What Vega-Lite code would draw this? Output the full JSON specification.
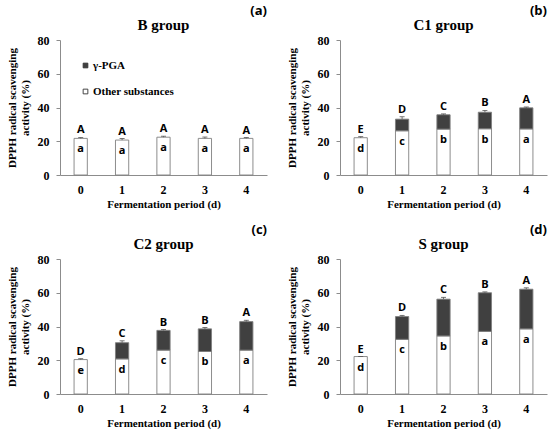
{
  "$schema": "https://vega.github.io/schema/vega-lite/v6.json",
  "background": "white",
  "padding": 5,
  "datasets": {
    "dpph": [
      {"g": "B", "d": "0", "other": 21.7, "total": 21.7, "hi": 22.3, "up": "A", "low": "a"},
      {"g": "B", "d": "1", "other": 20.7, "total": 20.7, "hi": 21.6, "up": "A", "low": "a"},
      {"g": "B", "d": "2", "other": 22.4, "total": 22.4, "hi": 23.0, "up": "A", "low": "a"},
      {"g": "B", "d": "3", "other": 21.7, "total": 21.7, "hi": 22.5, "up": "A", "low": "a"},
      {"g": "B", "d": "4", "other": 21.7, "total": 21.7, "hi": 22.2, "up": "A", "low": "a"},
      {"g": "C1", "d": "0", "other": 22.1, "total": 22.1, "hi": 22.7, "up": "E", "low": "d"},
      {"g": "C1", "d": "1", "other": 26.2, "total": 33.1, "hi": 34.5, "up": "D", "low": "c"},
      {"g": "C1", "d": "2", "other": 27.2, "total": 35.7, "hi": 36.2, "up": "C", "low": "b"},
      {"g": "C1", "d": "3", "other": 27.4, "total": 37.2, "hi": 38.3, "up": "B", "low": "b"},
      {"g": "C1", "d": "4", "other": 27.3, "total": 39.8, "hi": 40.3, "up": "A", "low": "a"},
      {"g": "C2", "d": "0", "other": 20.4, "total": 20.4, "hi": 20.9, "up": "D", "low": "e"},
      {"g": "C2", "d": "1", "other": 20.8, "total": 30.4, "hi": 31.5, "up": "C", "low": "d"},
      {"g": "C2", "d": "2", "other": 26.0, "total": 37.7, "hi": 38.2, "up": "B", "low": "c"},
      {"g": "C2", "d": "3", "other": 25.2, "total": 38.6, "hi": 39.4, "up": "B", "low": "b"},
      {"g": "C2", "d": "4", "other": 26.0, "total": 42.9, "hi": 43.7, "up": "A", "low": "a"},
      {"g": "S", "d": "0", "other": 22.2, "total": 22.2, "hi": 22.2, "up": "E", "low": "d"},
      {"g": "S", "d": "1", "other": 32.4, "total": 45.9, "hi": 46.6, "up": "D", "low": "c"},
      {"g": "S", "d": "2", "other": 34.4, "total": 56.2, "hi": 57.3, "up": "C", "low": "b"},
      {"g": "S", "d": "3", "other": 37.1, "total": 60.0, "hi": 60.5, "up": "B", "low": "a"},
      {"g": "S", "d": "4", "other": 38.6, "total": 62.1, "hi": 62.9, "up": "A", "low": "a"}
    ]
  },
  "data": {"name": "dpph"},
  "columns": 2,
  "spacing": {"row": 15, "column": 18},
  "resolve": {"scale": {"color": "independent", "x": "independent", "y": "independent"}, "legend": {"color": "independent"}},
  "concat": [
    {
      "title": {"text": "(a)", "anchor": "end", "offset": 0},
      "resolve": {"scale": {"color": "independent"}, "legend": {"color": "independent"}},
      "vconcat": [
        {
          "title": {"text": "B group", "font": "Liberation Serif", "fontSize": 15, "offset": 1},
          "width": 207,
          "height": 135,
          "transform": [{"filter": "datum.g == 'B'"}],
          "encoding": {
            "x": {"field": "d", "type": "ordinal", "scale": {"paddingInner": 0, "paddingOuter": 0}, "title": "Fermentation period (d)"}
          },
          "layer": [
            {
              "mark": {"type": "bar", "width": {"band": 0.32}},
              "encoding": {
                "y": {"field": "other", "type": "quantitative", "scale": {"domain": [0, 80]}, "title": ["DPPH radical scavenging", "activity (%)"]},
                "color": {"datum": "Other substances", "scale": {"domain": ["γ-PGA", "Other substances"], "range": ["#404040", "white"]},
                  "legend": {"title": null, "orient": "top-left", "offset": 20, "padding": 0, "symbolType": "square", "symbolSize": 22, "symbolStrokeColor": "#333333", "symbolStrokeWidth": 0.8, "labelOffset": 2, "rowPadding": 14, "labelFont": "Liberation Serif", "labelFontWeight": "bold", "labelFontSize": 11, "labelColor": "black"}}
              }
            },
            {
              "transform": [{"filter": "datum.total > datum.other"}],
              "mark": {"type": "bar", "width": {"band": 0.32}},
              "encoding": {
                "y": {"field": "other", "type": "quantitative"},
                "y2": {"field": "total"},
                "color": {"datum": "γ-PGA"}
              }
            },
            {
              "mark": {"type": "rule", "color": "#555555", "strokeWidth": 0.8},
              "encoding": {"y": {"field": "total", "type": "quantitative"}, "y2": {"field": "hi"}}
            },
            {
              "mark": {"type": "tick", "color": "#555555", "thickness": 0.8, "size": 5},
              "encoding": {"y": {"field": "hi", "type": "quantitative"}}
            },
            {
              "mark": {"type": "text", "font": "Open Sans", "fontWeight": "bold", "fontSize": 11, "baseline": "alphabetic", "dy": -4},
              "encoding": {"y": {"field": "hi", "type": "quantitative"}, "text": {"field": "up"}}
            },
            {
              "mark": {"type": "text", "font": "Open Sans", "fontWeight": "bold", "fontSize": 11, "baseline": "middle", "dy": 11},
              "encoding": {"y": {"field": "other", "type": "quantitative"}, "text": {"field": "low"}}
            }
          ]
        }
      ]
    },
    {
      "title": {"text": "(b)", "anchor": "end", "offset": 0},
      "resolve": {"scale": {"color": "independent"}, "legend": {"color": "independent"}},
      "vconcat": [
        {
          "title": {"text": "C1 group", "font": "Liberation Serif", "fontSize": 15, "offset": 1},
          "width": 207,
          "height": 135,
          "transform": [{"filter": "datum.g == 'C1'"}],
          "encoding": {
            "x": {"field": "d", "type": "ordinal", "scale": {"paddingInner": 0, "paddingOuter": 0}, "title": "Fermentation period (d)"}
          },
          "layer": [
            {
              "mark": {"type": "bar", "width": {"band": 0.32}},
              "encoding": {
                "y": {"field": "other", "type": "quantitative", "scale": {"domain": [0, 80]}, "title": ["DPPH radical scavenging", "activity (%)"]},
                "color": {"datum": "Other substances", "scale": {"domain": ["γ-PGA", "Other substances"], "range": ["#404040", "white"]}, "legend": null}
              }
            },
            {
              "transform": [{"filter": "datum.total > datum.other"}],
              "mark": {"type": "bar", "width": {"band": 0.32}},
              "encoding": {
                "y": {"field": "other", "type": "quantitative"},
                "y2": {"field": "total"},
                "color": {"datum": "γ-PGA", "legend": null}
              }
            },
            {
              "mark": {"type": "rule", "color": "#555555", "strokeWidth": 0.8},
              "encoding": {"y": {"field": "total", "type": "quantitative"}, "y2": {"field": "hi"}}
            },
            {
              "mark": {"type": "tick", "color": "#555555", "thickness": 0.8, "size": 5},
              "encoding": {"y": {"field": "hi", "type": "quantitative"}}
            },
            {
              "mark": {"type": "text", "font": "Open Sans", "fontWeight": "bold", "fontSize": 11, "baseline": "alphabetic", "dy": -4},
              "encoding": {"y": {"field": "hi", "type": "quantitative"}, "text": {"field": "up"}}
            },
            {
              "mark": {"type": "text", "font": "Open Sans", "fontWeight": "bold", "fontSize": 11, "baseline": "middle", "dy": 11},
              "encoding": {"y": {"field": "other", "type": "quantitative"}, "text": {"field": "low"}}
            }
          ]
        }
      ]
    },
    {
      "title": {"text": "(c)", "anchor": "end", "offset": 0},
      "resolve": {"scale": {"color": "independent"}, "legend": {"color": "independent"}},
      "vconcat": [
        {
          "title": {"text": "C2 group", "font": "Liberation Serif", "fontSize": 15, "offset": 1},
          "width": 207,
          "height": 135,
          "transform": [{"filter": "datum.g == 'C2'"}],
          "encoding": {
            "x": {"field": "d", "type": "ordinal", "scale": {"paddingInner": 0, "paddingOuter": 0}, "title": "Fermentation period (d)"}
          },
          "layer": [
            {
              "mark": {"type": "bar", "width": {"band": 0.32}},
              "encoding": {
                "y": {"field": "other", "type": "quantitative", "scale": {"domain": [0, 80]}, "title": ["DPPH radical scavenging", "activity (%)"]},
                "color": {"datum": "Other substances", "scale": {"domain": ["γ-PGA", "Other substances"], "range": ["#404040", "white"]}, "legend": null}
              }
            },
            {
              "transform": [{"filter": "datum.total > datum.other"}],
              "mark": {"type": "bar", "width": {"band": 0.32}},
              "encoding": {
                "y": {"field": "other", "type": "quantitative"},
                "y2": {"field": "total"},
                "color": {"datum": "γ-PGA", "legend": null}
              }
            },
            {
              "mark": {"type": "rule", "color": "#555555", "strokeWidth": 0.8},
              "encoding": {"y": {"field": "total", "type": "quantitative"}, "y2": {"field": "hi"}}
            },
            {
              "mark": {"type": "tick", "color": "#555555", "thickness": 0.8, "size": 5},
              "encoding": {"y": {"field": "hi", "type": "quantitative"}}
            },
            {
              "mark": {"type": "text", "font": "Open Sans", "fontWeight": "bold", "fontSize": 11, "baseline": "alphabetic", "dy": -4},
              "encoding": {"y": {"field": "hi", "type": "quantitative"}, "text": {"field": "up"}}
            },
            {
              "mark": {"type": "text", "font": "Open Sans", "fontWeight": "bold", "fontSize": 11, "baseline": "middle", "dy": 11},
              "encoding": {"y": {"field": "other", "type": "quantitative"}, "text": {"field": "low"}}
            }
          ]
        }
      ]
    },
    {
      "title": {"text": "(d)", "anchor": "end", "offset": 0},
      "resolve": {"scale": {"color": "independent"}, "legend": {"color": "independent"}},
      "vconcat": [
        {
          "title": {"text": "S group", "font": "Liberation Serif", "fontSize": 15, "offset": 1},
          "width": 207,
          "height": 135,
          "transform": [{"filter": "datum.g == 'S'"}],
          "encoding": {
            "x": {"field": "d", "type": "ordinal", "scale": {"paddingInner": 0, "paddingOuter": 0}, "title": "Fermentation period (d)"}
          },
          "layer": [
            {
              "mark": {"type": "bar", "width": {"band": 0.32}},
              "encoding": {
                "y": {"field": "other", "type": "quantitative", "scale": {"domain": [0, 80]}, "title": ["DPPH radical scavenging", "activity (%)"]},
                "color": {"datum": "Other substances", "scale": {"domain": ["γ-PGA", "Other substances"], "range": ["#404040", "white"]}, "legend": null}
              }
            },
            {
              "transform": [{"filter": "datum.total > datum.other"}],
              "mark": {"type": "bar", "width": {"band": 0.32}},
              "encoding": {
                "y": {"field": "other", "type": "quantitative"},
                "y2": {"field": "total"},
                "color": {"datum": "γ-PGA", "legend": null}
              }
            },
            {
              "mark": {"type": "rule", "color": "#555555", "strokeWidth": 0.8},
              "encoding": {"y": {"field": "total", "type": "quantitative"}, "y2": {"field": "hi"}}
            },
            {
              "mark": {"type": "tick", "color": "#555555", "thickness": 0.8, "size": 5},
              "encoding": {"y": {"field": "hi", "type": "quantitative"}}
            },
            {
              "mark": {"type": "text", "font": "Open Sans", "fontWeight": "bold", "fontSize": 11, "baseline": "alphabetic", "dy": -4},
              "encoding": {"y": {"field": "hi", "type": "quantitative"}, "text": {"field": "up"}}
            },
            {
              "mark": {"type": "text", "font": "Open Sans", "fontWeight": "bold", "fontSize": 11, "baseline": "middle", "dy": 11},
              "encoding": {"y": {"field": "other", "type": "quantitative"}, "text": {"field": "low"}}
            }
          ]
        }
      ]
    }
  ],
  "config": {
    "view": {"stroke": null},
    "bar": {"stroke": "#808080", "strokeWidth": 0.9, "opacity": 1},
    "tick": {"opacity": 1},
    "text": {"color": "black"},
    "title": {"font": "Open Sans", "fontSize": 13, "fontWeight": "bold", "color": "black"},
    "axis": {
      "grid": false,
      "domainColor": "#8c8c8c",
      "tickColor": "#8c8c8c",
      "labelFont": "Liberation Serif",
      "labelFontWeight": "bold",
      "labelFontSize": 12,
      "labelColor": "black",
      "titleFont": "Liberation Serif",
      "titleFontWeight": "bold",
      "titleFontSize": 11,
      "titleColor": "black"
    },
    "axisX": {"ticks": false, "tickSize": 0, "labelAngle": 0, "labelPadding": 9, "titlePadding": 3},
    "axisY": {"tickSize": 4, "labelPadding": 7, "titlePadding": 7, "titleLineHeight": 13, "values": [0, 20, 40, 60, 80]}
  }
}
